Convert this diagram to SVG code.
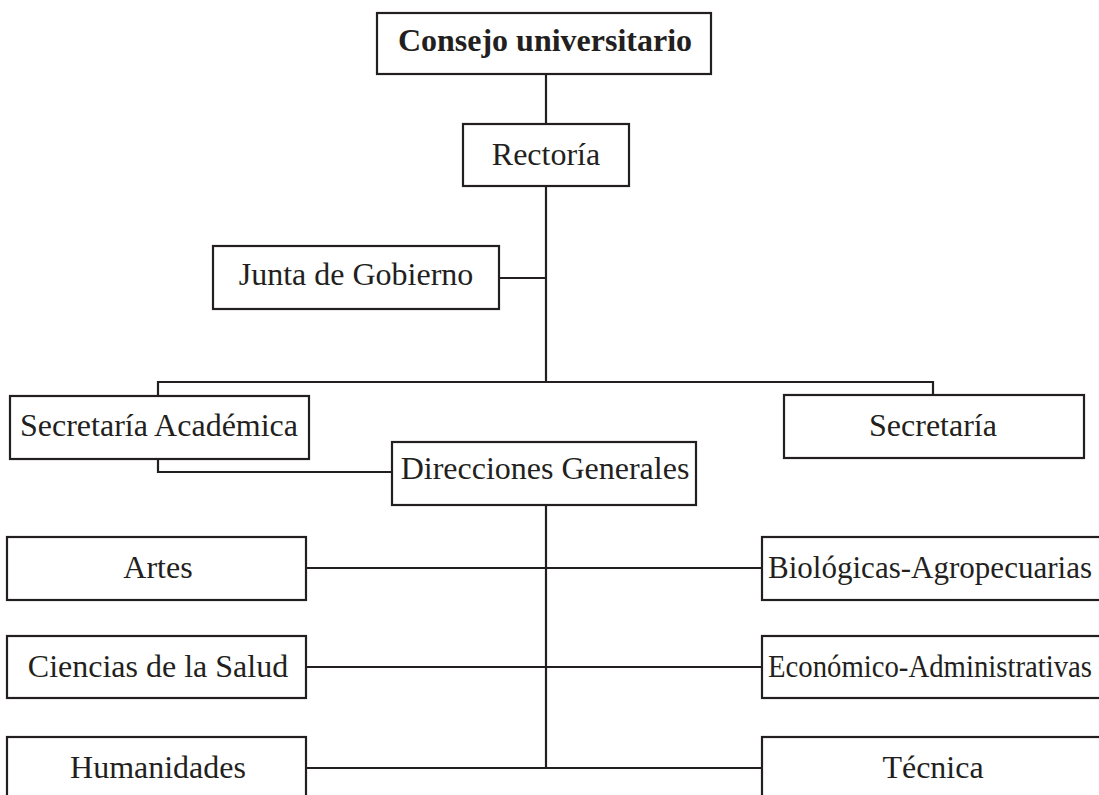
<svg xmlns="http://www.w3.org/2000/svg" width="1099" height="795" viewBox="0 0 1099 795">
<style>
.box{fill:#fff;stroke:#231f20;stroke-width:2.2}
.ln{fill:none;stroke:#231f20;stroke-width:2.2}
text{font-family:"Liberation Serif","Times New Roman",serif;font-size:32px;fill:#231f20;text-anchor:middle}
.b{font-weight:bold}
</style>
<rect width="1099" height="795" fill="#fff"/>
<g id="connectors">
<path class="ln" d="M546,74 V124 M546,186 V382 M499,278 H546 M158,396 V382 H933 V395 M546,505 V768 M306,568 H762 M306,667 H762 M306,768 H762 M158,459 V472 H392"/>
</g>
<g id="consejo"><rect class="box" x="377" y="13" width="334" height="61"/><text class="b" x="545" y="51">Consejo universitario</text></g>
<g id="rectoria"><rect class="box" x="463" y="124" width="166" height="62"/><text x="546" y="165">Rectoría</text></g>
<g id="junta"><rect class="box" x="213" y="246" width="286" height="63"/><text x="356" y="285">Junta de Gobierno</text></g>
<g id="secacad"><rect class="box" x="10" y="396" width="299" height="63"/><text x="159" y="436">Secretaría Académica</text></g>
<g id="secretaria"><rect class="box" x="784" y="395" width="300" height="63"/><text x="933" y="436">Secretaría</text></g>
<g id="direcciones"><rect class="box" x="392" y="442" width="304" height="63"/><text x="545" y="479">Direcciones Generales</text></g>
<g id="artes"><rect class="box" x="7" y="537" width="299" height="63"/><text x="158" y="578">Artes</text></g>
<g id="ciencias"><rect class="box" x="7" y="636" width="299" height="62"/><text x="158" y="677">Ciencias de la Salud</text></g>
<g id="humanidades"><rect class="box" x="7" y="737" width="299" height="64"/><text x="158" y="778">Humanidades</text></g>
<g id="biologicas"><rect class="box" x="762" y="537" width="342" height="63"/><text x="930" y="578" textLength="324" lengthAdjust="spacingAndGlyphs">Biológicas-Agropecuarias</text></g>
<g id="economico"><rect class="box" x="762" y="636" width="342" height="62"/><text x="930" y="677" textLength="324" lengthAdjust="spacingAndGlyphs">Económico-Administrativas</text></g>
<g id="tecnica"><rect class="box" x="762" y="737" width="342" height="64"/><text x="933" y="778">Técnica</text></g>
</svg>
